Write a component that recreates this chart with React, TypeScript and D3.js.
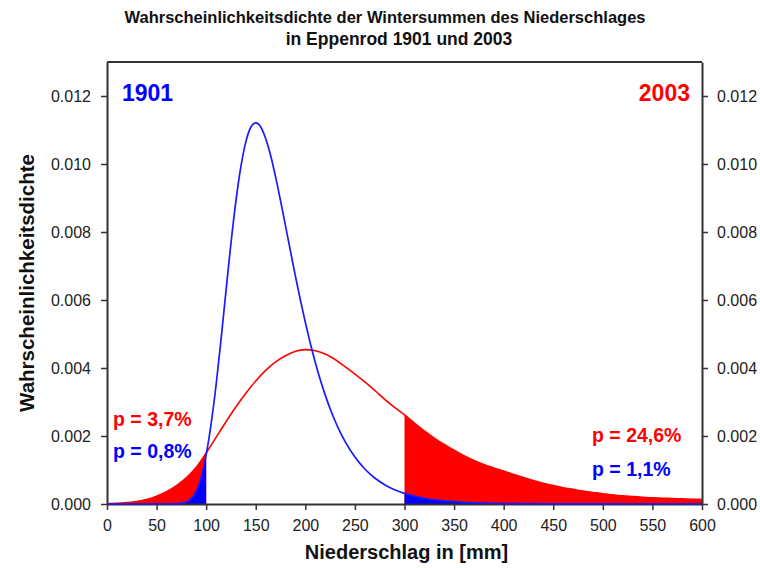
import React, { useEffect, useRef } from 'react';
import * as d3 from 'd3';

// Niederschlag (mm) and density
const blueX = [0, 50, 60, 70, 75, 80, 85, 90, 95, 100, 105, 110, 115, 120, 125, 130, 135, 140, 145, 150, 155, 160, 165, 170, 175, 180, 185, 190, 195, 200, 205, 210, 215, 220, 225, 230, 235, 240, 250, 260, 270, 280, 290, 300, 320, 340, 360, 380, 400, 450, 500, 550, 600];
const blueY = [0, 0, 0, 0.000004, 0.000016, 0.000055, 0.000156, 0.000374, 0.000775, 0.00145, 0.00236, 0.0035, 0.00484, 0.00627, 0.00767, 0.00891, 0.00992, 0.01065, 0.01108, 0.01121, 0.01109, 0.01075, 0.01025, 0.00962, 0.00892, 0.00818, 0.00744, 0.0067, 0.006, 0.00534, 0.00473, 0.00417, 0.00366, 0.00321, 0.0028, 0.00244, 0.00212, 0.00184, 0.00138, 0.00103, 0.000765, 0.000569, 0.000421, 0.000312, 0.00017, 0.000093, 0.00005, 0.000027, 0.000015, 0.000003, 0.000001, 0, 0];

const redX = d3.range(0, 601, 10);
const redY = [0.00001, 0.00002, 0.00004, 0.00007, 0.00013, 0.00023, 0.00036, 0.00054, 0.00077, 0.00108, 0.0015, 0.00196, 0.00242, 0.00286, 0.00326, 0.00362, 0.00393, 0.00418, 0.00436, 0.00449, 0.00454, 0.00451, 0.00441, 0.00425, 0.00404, 0.00382, 0.00359, 0.00334, 0.00308, 0.00284, 0.00262, 0.00238, 0.00215, 0.00194, 0.00175, 0.00158, 0.00142, 0.00128, 0.00116, 0.00106, 0.00097, 0.00087, 0.00078, 0.00069, 0.00061, 0.00054, 0.00048, 0.00043, 0.00038, 0.00034, 0.0003, 0.00027, 0.00024, 0.00022, 0.0002, 0.00018, 0.00017, 0.00016, 0.00015, 0.00014, 0.00013];

const xTicks = d3.range(0, 601, 50);
const yTicks = [0, 0.002, 0.004, 0.006, 0.008, 0.01, 0.012];

const titleLines = ['Wahrscheinlichkeitsdichte der Wintersummen des Niederschlages', 'in Eppenrod 1901 und 2003'];
const lowLimit = 100;
const highLimit = 300;

type Pt = { x: number; y: number };

const App: React.FC = () => {
  const svgRef = useRef<SVGSVGElement>(null);

  useEffect(() => {
    if (!svgRef.current) return;
    const svg = d3.select(svgRef.current);
    svg.selectAll('*').remove();

    const font = 'Liberation Sans, Arial, sans-serif';
    const margin = { top: 62, right: 58, bottom: 64, left: 107 };
    const width = 760 - margin.left - margin.right;
    const height = 568 - margin.top - margin.bottom;

    const blue: Pt[] = blueX.map((x, i) => ({ x, y: blueY[i] }));
    const red: Pt[] = redX.map((x, i) => ({ x, y: redY[i] }));

    const x = d3.scaleLinear().domain([0, 600]).range([0, width]);
    const y = d3.scaleLinear().domain([0, 0.013]).range([height, 0]);

    // title
    svg.append('text')
      .attr('x', 385)
      .attr('y', 23)
      .attr('text-anchor', 'middle')
      .style('font-family', font)
      .style('font-weight', 'bold')
      .style('font-size', '16.5px')
      .style('fill', '#111')
      .text(titleLines[0]);
    svg.append('text')
      .attr('x', 399)
      .attr('y', 45)
      .attr('text-anchor', 'middle')
      .style('font-family', font)
      .style('font-weight', 'bold')
      .style('font-size', '17.5px')
      .style('fill', '#111')
      .text(titleLines[1]);

    const g = svg.append('g').attr('transform', `translate(${margin.left},${margin.top})`);

    const area = d3.area<Pt>()
      .x(d => x(d.x))
      .y0(height)
      .y1(d => y(d.y))
      .curve(d3.curveMonotoneX);

    const line = d3.line<Pt>()
      .x(d => x(d.x))
      .y(d => y(d.y))
      .curve(d3.curveMonotoneX);

    // shaded tails
    g.append('path').datum(red.filter(d => d.x <= lowLimit)).attr('fill', '#ff0000').attr('d', area);
    g.append('path').datum(red.filter(d => d.x >= highLimit)).attr('fill', '#ff0000').attr('d', area);
    g.append('path').datum(blue.filter(d => d.x <= lowLimit)).attr('fill', '#0000ff').attr('d', area);
    g.append('path').datum(blue.filter(d => d.x >= highLimit)).attr('fill', '#0000ff').attr('d', area);

    // axes
    const styleAxis = (sel: d3.Selection<SVGGElement, unknown, null, undefined>) => {
      sel.selectAll('path').attr('stroke', '#333').attr('stroke-width', 2);
      sel.selectAll('line').attr('stroke', '#333').attr('stroke-width', 1.5);
      sel.selectAll('text')
        .style('font-family', font)
        .style('font-size', '16px')
        .style('fill', '#222');
    };

    g.append('g')
      .attr('transform', `translate(0,${height})`)
      .call(d3.axisBottom(x).tickValues(xTicks).tickSize(6).tickSizeOuter(0).tickPadding(10).tickFormat(d3.format('d')))
      .call(styleAxis);

    g.append('g')
      .call(d3.axisLeft(y).tickValues(yTicks).tickSize(6).tickSizeOuter(0).tickPadding(10).tickFormat(d3.format('.3f')))
      .call(styleAxis);

    g.append('g')
      .attr('transform', `translate(${width},0)`)
      .call(d3.axisRight(y).tickValues(yTicks).tickSize(6).tickSizeOuter(0).tickPadding(9).tickFormat(d3.format('.3f')))
      .call(styleAxis);

    g.append('line')
      .attr('x1', 0).attr('x2', width)
      .attr('y1', 0).attr('y2', 0)
      .attr('stroke', '#333').attr('stroke-width', 2);

    // curves
    g.append('path').datum(red).attr('fill', 'none').attr('stroke', '#ff0000').attr('stroke-width', 1.6).attr('d', line);
    g.append('path').datum(blue).attr('fill', 'none').attr('stroke', '#1a1aff').attr('stroke-width', 1.7).attr('d', line);

    // labels inside plot
    const label = (tx: number, ty: number, txt: string, color: string, size: number, anchor = 'start') => {
      g.append('text')
        .attr('x', tx)
        .attr('y', ty)
        .attr('text-anchor', anchor)
        .style('font-family', font)
        .style('font-weight', 'bold')
        .style('font-size', `${size}px`)
        .style('fill', color)
        .text(txt);
    };
    label(15, 39, '1901', '#0000ff', 23);
    label(583, 39, '2003', '#ff0000', 23, 'end');
    label(6, 364, 'p = 3,7%', '#ff0000', 19.5);
    label(6, 396, 'p = 0,8%', '#0000ff', 19.5);
    label(485, 380, 'p = 24,6%', '#ff0000', 19.5);
    label(485, 414, 'p = 1,1%', '#0000ff', 19.5);

    // axis titles
    svg.append('text')
      .attr('x', margin.left + width / 2 + 2)
      .attr('y', 559)
      .attr('text-anchor', 'middle')
      .style('font-family', font)
      .style('font-weight', 'bold')
      .style('font-size', '20px')
      .style('fill', '#111')
      .text('Niederschlag in [mm]');

    svg.append('text')
      .attr('transform', `translate(34,${margin.top + height / 2}) rotate(-90)`)
      .attr('text-anchor', 'middle')
      .style('font-family', font)
      .style('font-weight', 'bold')
      .style('font-size', '20.5px')
      .style('fill', '#111')
      .text('Wahrscheinlichkeitsdichte');
  }, []);

  return (
    <svg ref={svgRef} width={760} height={568} style={{ position: 'absolute', left: 0, top: 0, background: '#fff' }}></svg>
  );
};

export default App;
